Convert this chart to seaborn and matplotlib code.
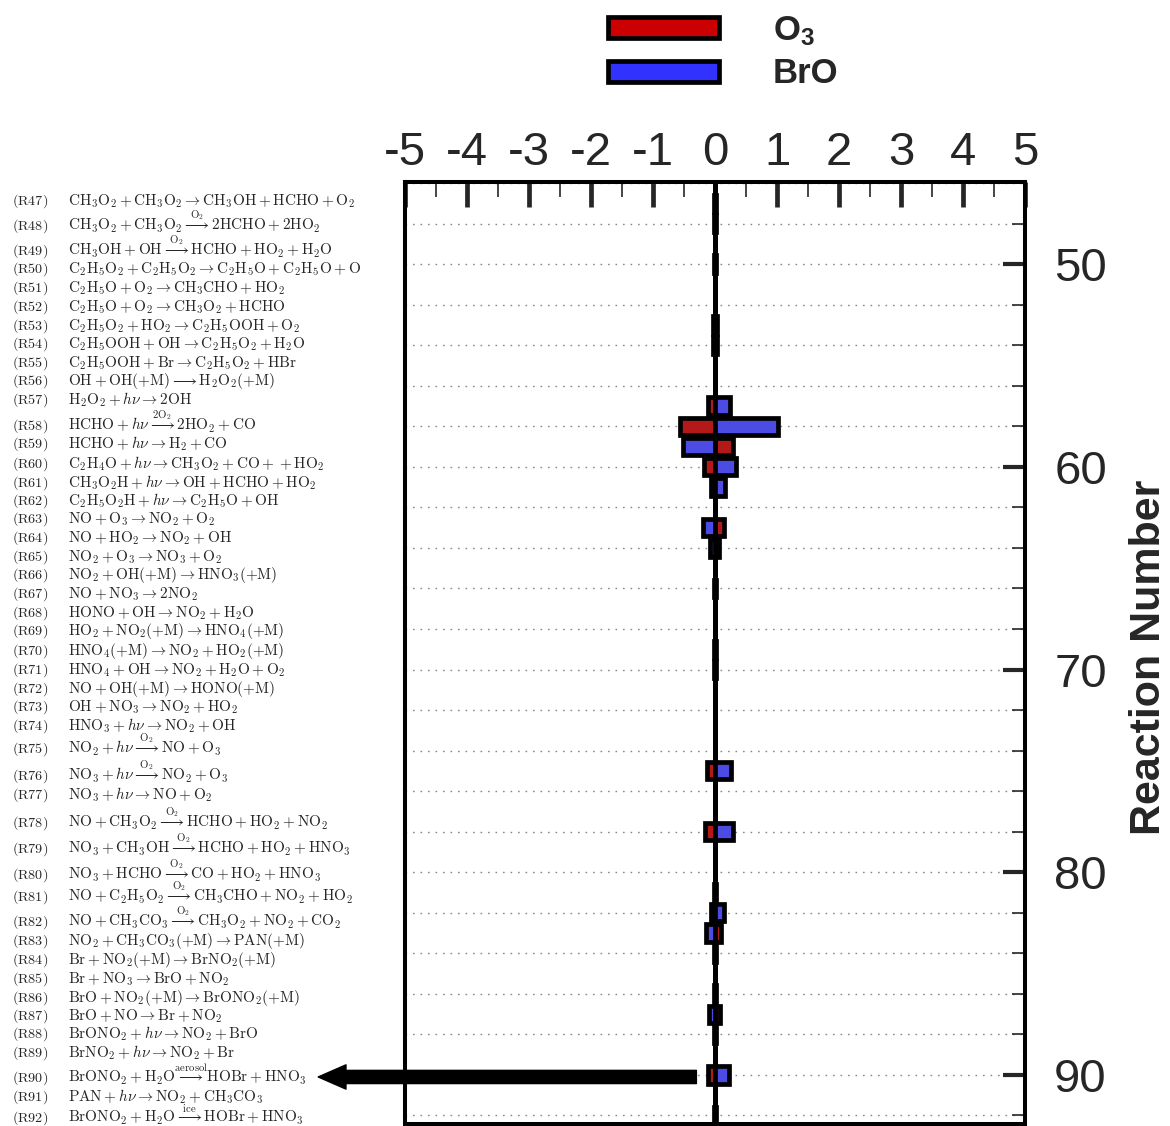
import numpy as np
import pandas as pd
import matplotlib
matplotlib.use("Agg")
import matplotlib.pyplot as plt
from matplotlib.patches import Patch
from matplotlib.ticker import MultipleLocator, FixedLocator
import seaborn as sns

# ---------------- data ----------------
reactions = list(range(47, 93))

o3_change = [
    -0.02, -0.02, 0.00, -0.01, 0.00, 0.00, -0.04, -0.04, 0.00, 0.00,   # R47-R56
    -0.11, -0.56, 0.29, -0.17, -0.07, 0.00, 0.14, 0.07, 0.00, 0.02,    # R57-R66
    0.00, 0.00, 0.02, 0.02, 0.00, 0.00, 0.00, 0.00, -0.13, 0.00,       # R67-R76
    0.00, -0.16, 0.00, 0.00, -0.02, -0.07, 0.09, 0.02, 0.00, 0.02,     # R77-R86
    0.08, 0.02, 0.00, -0.12, 0.00, 0.02,                               # R87-R92
]
bro_change = [
    0.02, 0.02, 0.00, 0.01, 0.00, 0.00, 0.03, 0.03, 0.00, 0.00,
    0.24, 1.01, -0.52, 0.34, 0.16, 0.00, -0.20, -0.08, 0.00, -0.02,
    0.00, 0.00, -0.02, -0.02, 0.00, 0.00, 0.00, 0.00, 0.25, 0.00,
    0.00, 0.29, 0.00, 0.00, 0.02, 0.15, -0.14, -0.01, 0.00, -0.02,
    -0.10, -0.02, 0.00, 0.22, 0.00, -0.02,
]

species = ["O3", "BrO"]
species_labels = ["O$_3$", "BrO"]
species_colors = {"O3": "#cc0000", "BrO": "#3232ff"}

x_ticks = [-5, -4, -3, -2, -1, 0, 1, 2, 3, 4, 5]
y_ticks = [50, 60, 70, 80, 90]
y_label = "Reaction Number"

ON = r"\overset{\mathrm{O_2}}{\longrightarrow}"
reaction_eqs = [
    r"CH_3O_2+CH_3O_2\rightarrow CH_3OH+HCHO+O_2",
    r"CH_3O_2+CH_3O_2" + ON + r"2HCHO+2HO_2",
    r"CH_3OH+OH" + ON + r"HCHO+HO_2+H_2O",
    r"C_2H_5O_2+C_2H_5O_2\rightarrow C_2H_5O+C_2H_5O+O",
    r"C_2H_5O+O_2\rightarrow CH_3CHO+HO_2",
    r"C_2H_5O+O_2\rightarrow CH_3O_2+HCHO",
    r"C_2H_5O_2+HO_2\rightarrow C_2H_5OOH+O_2",
    r"C_2H_5OOH+OH\rightarrow C_2H_5O_2+H_2O",
    r"C_2H_5OOH+Br\rightarrow C_2H_5O_2+HBr",
    r"OH+OH(+M)\longrightarrow H_2O_2(+M)",
    r"H_2O_2+\mathit{h}\nu\rightarrow 2OH",
    r"HCHO+\mathit{h}\nu\overset{\mathrm{2O_2}}{\longrightarrow}2HO_2+CO",
    r"HCHO+\mathit{h}\nu\rightarrow H_2+CO",
    r"C_2H_4O+\mathit{h}\nu\rightarrow CH_3O_2+CO++HO_2",
    r"CH_3O_2H+\mathit{h}\nu\rightarrow OH+HCHO+HO_2",
    r"C_2H_5O_2H+\mathit{h}\nu\rightarrow C_2H_5O+OH",
    r"NO+O_3\rightarrow NO_2+O_2",
    r"NO+HO_2\rightarrow NO_2+OH",
    r"NO_2+O_3\rightarrow NO_3+O_2",
    r"NO_2+OH(+M)\rightarrow HNO_3(+M)",
    r"NO+NO_3\rightarrow 2NO_2",
    r"HONO+OH\rightarrow NO_2+H_2O",
    r"HO_2+NO_2(+M)\rightarrow HNO_4(+M)",
    r"HNO_4(+M)\rightarrow NO_2+HO_2(+M)",
    r"HNO_4+OH\rightarrow NO_2+H_2O+O_2",
    r"NO+OH(+M)\rightarrow HONO(+M)",
    r"OH+NO_3\rightarrow NO_2+HO_2",
    r"HNO_3+\mathit{h}\nu\rightarrow NO_2+OH",
    r"NO_2+\mathit{h}\nu" + ON + r"NO+O_3",
    r"NO_3+\mathit{h}\nu" + ON + r"NO_2+O_3",
    r"NO_3+\mathit{h}\nu\rightarrow NO+O_2",
    r"NO+CH_3O_2" + ON + r"HCHO+HO_2+NO_2",
    r"NO_3+CH_3OH" + ON + r"HCHO+HO_2+HNO_3",
    r"NO_3+HCHO" + ON + r"CO+HO_2+HNO_3",
    r"NO+C_2H_5O_2" + ON + r"CH_3CHO+NO_2+HO_2",
    r"NO+CH_3CO_3" + ON + r"CH_3O_2+NO_2+CO_2",
    r"NO_2+CH_3CO_3(+M)\rightarrow PAN(+M)",
    r"Br+NO_2(+M)\rightarrow BrNO_2(+M)",
    r"Br+NO_3\rightarrow BrO+NO_2",
    r"BrO+NO_2(+M)\rightarrow BrONO_2(+M)",
    r"BrO+NO\rightarrow Br+NO_2",
    r"BrONO_2+\mathit{h}\nu\rightarrow NO_2+BrO",
    r"BrNO_2+\mathit{h}\nu\rightarrow NO_2+Br",
    r"BrONO_2+H_2O\overset{\mathrm{aerosol}}{\longrightarrow}HOBr+HNO_3",
    r"PAN+\mathit{h}\nu\rightarrow NO_2+CH_3CO_3",
    r"BrONO_2+H_2O\overset{\mathrm{ice}}{\longrightarrow}HOBr+HNO_3",
]
reaction_ids = [f"(R{n})" for n in reactions]

# layout: vertical pixel centre of each reaction line in the left-hand list
label_ypix = [200, 225, 250, 268, 287, 306, 325, 343, 362, 380,
              399, 425, 443, 463, 482, 500, 518, 537, 556, 574,
              593, 612, 630, 650, 669, 688, 706, 725, 748, 775,
              794, 822, 848, 874, 896, 921, 940, 959, 978, 997,
              1015, 1033, 1052, 1077, 1096, 1117]

highlight_reaction = 90

# ---------------- style ----------------
sns.set_style("white")
plt.rcParams["font.family"] = ["Liberation Sans", "DejaVu Sans"]
plt.rcParams["axes.unicode_minus"] = False
plt.rcParams["mathtext.fontset"] = "custom"
plt.rcParams["mathtext.rm"] = "Liberation Sans:bold"
plt.rcParams["mathtext.bf"] = "Liberation Sans:bold"
plt.rcParams["mathtext.it"] = "Liberation Sans:italic:bold"
plt.rcParams["mathtext.default"] = "rm"

W, H = 1170, 1126
fig = plt.figure(figsize=(W / 100, H / 100), dpi=100)
ax = fig.add_axes([405 / W, 1 - 1124 / H, 620 / W, (1124 - 182) / H])

df = pd.DataFrame({
    "reaction": reactions * 2,
    "change": o3_change + bro_change,
    "species": ["O3"] * len(reactions) + ["BrO"] * len(reactions),
})

ax.axvline(0, color="black", lw=3.6, zorder=2)

sns.barplot(data=df, x="change", y="reaction", hue="species",
            hue_order=species, palette=species_colors, orient="h",
            native_scale=True, dodge=False, width=0.85, errorbar=None,
            edgecolor="black", linewidth=3.4, legend=False, ax=ax, zorder=3)

ax.set_xlim(-5, 5)
ax.set_ylim(92.42, 45.95)
ax.set_xlabel("")

# x axis on top
ax.xaxis.set_major_locator(FixedLocator(x_ticks))
ax.xaxis.set_minor_locator(MultipleLocator(0.5))
ax.set_xticklabels([str(t) for t in x_ticks])
ax.tick_params(axis="x", which="both", direction="in", top=True, bottom=False,
               labeltop=True, labelbottom=False)
ax.tick_params(axis="x", which="major", length=18, width=3.4, labelsize=34, pad=5)
ax.tick_params(axis="x", which="minor", length=11, width=1.2)

# y axis on right
ax.yaxis.set_major_locator(FixedLocator(y_ticks))
ax.yaxis.set_minor_locator(MultipleLocator(2))
ax.set_yticklabels([str(t) for t in y_ticks])
ax.tick_params(axis="y", which="both", direction="in", right=True, left=False,
               labelright=True, labelleft=False)
ax.tick_params(axis="y", which="major", length=16, width=3.0, labelsize=34, pad=21)
ax.tick_params(axis="y", which="minor", length=9.5, width=1.2)

ax.set_ylabel(y_label, fontsize=31, fontweight="bold", rotation=90)
ax.yaxis.set_label_position("right")
ax.yaxis.label.set_va("center")
ax.yaxis.set_label_coords((1149 - 405) / 620, 1 - (657 - 182) / (1124 - 182))

ax.grid(False)
ax.yaxis.grid(True, which="both", color="#8a8a8a", lw=1.0, ls=(0, (1.2, 4.2)), zorder=1)
ax.set_axisbelow(True)

for sp in ax.spines.values():
    sp.set_linewidth(2.9)
    sp.set_color("black")

# arrow pointing at the highlighted reaction
arrow_y = highlight_reaction + 0.1
ax.annotate("", xy=(-6.40, arrow_y), xytext=(-0.30, arrow_y), xycoords="data",
            arrowprops=dict(arrowstyle="simple,head_length=2.0,head_width=1.75,tail_width=0.95",
                            mutation_scale=10, fc="black", ec="black", lw=1,
                            shrinkA=0, shrinkB=0, joinstyle="round"),
            annotation_clip=False, zorder=6)

# reaction list on the left
for rid, eq, yp in zip(reaction_ids, reaction_eqs, label_ypix):
    yb = 1 - (yp + 5) / H
    fig.text(12 / W, yb, r"$\mathrm{" + rid + "}$", fontsize=10.2,
             math_fontfamily="cm", va="baseline", ha="left")
    fig.text(68 / W, yb, r"$\mathrm{" + eq + "}$", fontsize=11,
             math_fontfamily="cm", va="baseline", ha="left")

# legend
handles = [Patch(facecolor=species_colors[s], edgecolor="black", linewidth=3.4)
           for s in species]
fig.legend(handles, species_labels, loc="upper left",
           bbox_to_anchor=(608 / W, 1 - 14 / H), frameon=False,
           prop={"weight": "bold", "size": 25}, handlelength=3.2,
           handleheight=0.55, handletextpad=1.55, labelspacing=0.28,
           borderpad=0, borderaxespad=0)

fig.savefig("out.png", dpi=100)
